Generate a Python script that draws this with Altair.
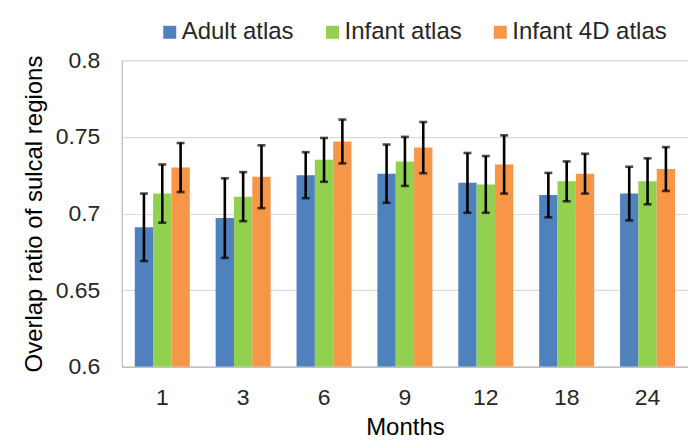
import altair as alt
import pandas as pd

months = ["1", "3", "6", "9", "12", "18", "24"]
series = ["Adult atlas", "Infant atlas", "Infant 4D atlas"]
colors = ["#4F81BD", "#92D050", "#F79646"]

adult = [0.691, 0.697, 0.725, 0.726, 0.720, 0.712, 0.713]
infant = [0.713, 0.711, 0.735, 0.734, 0.719, 0.721, 0.721]
infant4d = [0.730, 0.724, 0.747, 0.743, 0.732, 0.726, 0.729]

adult_err = [0.022, 0.026, 0.015, 0.019, 0.0195, 0.0145, 0.0175]
infant_err = [0.019, 0.016, 0.0143, 0.016, 0.0185, 0.013, 0.015]
infant4d_err = [0.016, 0.0205, 0.0143, 0.0167, 0.019, 0.013, 0.0143]

rows = []
for name, vals, errs in zip(series, [adult, infant, infant4d], [adult_err, infant_err, infant4d_err]):
    for m, v, e in zip(months, vals, errs):
        rows.append({"month": m, "series": name, "value": v, "err": e})
df = pd.DataFrame(rows)

FONT = "Liberation Sans"

x = alt.X("month:N", sort=months, title="Months",
          scale=alt.Scale(paddingInner=0.32, paddingOuter=0.16),
          axis=alt.Axis(labelAngle=0, ticks=False, labelPadding=38, labelBaseline="alphabetic",
                        labelFontSize=23, labelColor="#262626", labelFont=FONT,
                        titleFontSize=24, titleFont=FONT, titleFontWeight="normal", titleColor="#000000",
                        titleBaseline="alphabetic", titleY=68,
                        domainColor="#BFBFBF", domainWidth=1.5))
xo = alt.XOffset("series:N", sort=series, scale=alt.Scale(paddingInner=0, paddingOuter=0))
ysc = alt.Scale(domain=[0.6, 0.8], zero=False, nice=False)

base = alt.Chart(df)

bars = base.mark_bar(clip=True).encode(
    x=x, xOffset=xo,
    y=alt.Y("value:Q", scale=ysc, title="Overlap ratio of sulcal regions",
            axis=alt.Axis(values=[0.6, 0.65, 0.7, 0.75, 0.8], format="~g", ticks=False,
                          labelPadding=22, labelFontSize=23, labelColor="#262626", labelFont=FONT,
                          titleFontSize=24, titleFont=FONT, titleFontWeight="normal", titleColor="#000000",
                          titleX=-75, gridColor="#D9D9D9", gridWidth=1.2,
                          domainColor="#BFBFBF", domainWidth=1.2)),
    y2=alt.datum(0.6),
    color=alt.Color("series:N", sort=series, scale=alt.Scale(domain=series, range=colors),
                    legend=alt.Legend(title=None, orient="none", direction="horizontal",
                                      legendX=36, legendY=-40, padding=0,
                                      symbolType="square", symbolSize=169, symbolStrokeWidth=0,
                                      labelFontSize=24, labelFont=FONT, labelColor="#262626",
                                      labelOffset=0, columnPadding=26, symbolOpacity=1)),
)

calc = base.transform_calculate(lo="datum.value - datum.err", hi="datum.value + datum.err")

rules = calc.mark_rule(color="black", strokeWidth=2.6).encode(
    x=alt.X("month:N", sort=months), xOffset=xo,
    y=alt.Y("lo:Q", scale=ysc), y2="hi:Q")
caps_lo = calc.mark_tick(color="black", thickness=2.6, size=8, orient="horizontal").encode(
    x=alt.X("month:N", sort=months), xOffset=xo, y=alt.Y("lo:Q", scale=ysc))
caps_hi = calc.mark_tick(color="black", thickness=2.6, size=8, orient="horizontal").encode(
    x=alt.X("month:N", sort=months), xOffset=xo, y=alt.Y("hi:Q", scale=ysc))

frame_left = alt.Chart(pd.DataFrame({"a": [0]})).mark_rule(color="#D9D9D9", strokeWidth=1.5).encode(
    x=alt.value(-115), y=alt.value(-55), y2=alt.value(380))
frame_top = alt.Chart(pd.DataFrame({"a": [0]})).mark_rule(color="#D9D9D9", strokeWidth=1.5).encode(
    x=alt.value(-115), x2=alt.value(574), y=alt.value(-55))

chart = alt.layer(bars, rules, caps_lo, caps_hi, frame_left, frame_top).properties(
    width=567, height=307,
    autosize=alt.AutoSizeParams(type="none"),
    padding={"left": 114, "top": 52, "right": 0, "bottom": 74},
).configure_view(stroke=None).configure(font=FONT, background="white")

chart.save("out.html", embed_options={"renderer": "svg", "actions": False})
